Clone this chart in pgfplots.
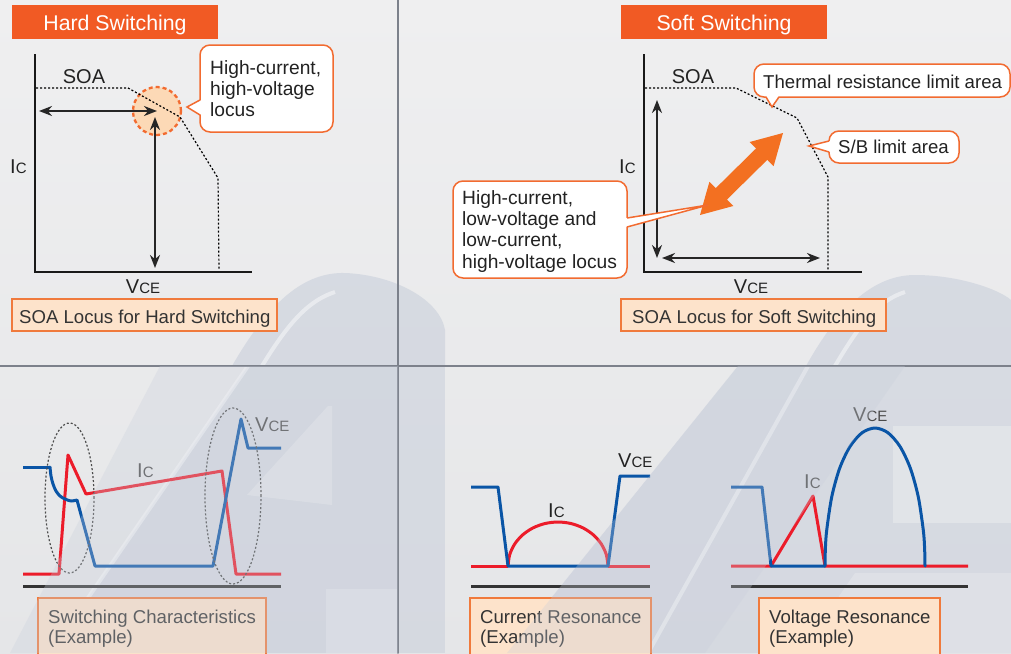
\documentclass[border=0pt]{standalone}
\usepackage{pgfplots}
\pgfplotsset{compat=1.18}
\usepackage{fontspec}
\setmainfont{Liberation Sans}
\usetikzlibrary{arrows.meta}
\definecolor{bgtop}{HTML}{EFEFF0}
\definecolor{bgbot}{HTML}{E5E6E8}
\definecolor{wm}{HTML}{C9CFDB}
\definecolor{wmlight}{HTML}{E4E6EA}
\definecolor{divider}{HTML}{7C818B}
\definecolor{titleor}{HTML}{F15A24}
\definecolor{bigarrow}{HTML}{F37021}
\definecolor{callout}{HTML}{F26B30}
\definecolor{capfill}{HTML}{FDE3CB}
\definecolor{capedge}{HTML}{F07A3C}
\definecolor{circfill}{HTML}{FCD9B6}
\definecolor{vblue}{HTML}{0A55A6}
\definecolor{ired}{HTML}{EC1C2A}
\definecolor{txt}{HTML}{222222}
\definecolor{captxt}{HTML}{333333}
\definecolor{lbl}{HTML}{4A4A4A}
\newcommand{\fs}[1]{\fontsize{#1}{#1}\selectfont}
\newcommand{\IC}[1][txt]{\textcolor{#1}{{\fs{20}I}{\fs{15}C}}}
\newcommand{\VCE}[1][txt]{\textcolor{#1}{{\fs{20}V}{\fs{15}CE}}}

\begin{document}
\begin{tikzpicture}
\begin{axis}[scale only axis, width=1011pt, height=653pt,
  xmin=0, xmax=1011, ymin=0, ymax=653, y dir=reverse,
  axis lines=none, clip=true,
  every axis plot/.append style={line cap=round, line join=round}]

% ---------- background ----------
\fill[top color=bgtop, bottom color=bgbot] (axis cs:0,0) rectangle (axis cs:1011,653);
% watermark, top panels (tops of tubes)
\fill[wm, opacity=0.6] (axis cs:232,366) .. controls (axis cs:270,300) and (axis cs:305,272) .. (axis cs:345,273)
   .. controls (axis cs:395,275) and (axis cs:440,300) .. (axis cs:445,330) -- (axis cs:445,366) -- cycle;
\fill[wm, opacity=0.6] (axis cs:806,366) .. controls (axis cs:840,305) and (axis cs:875,275) .. (axis cs:915,275)
   .. controls (axis cs:960,275) and (axis cs:1000,290) .. (axis cs:1011,300) -- (axis cs:1011,366) -- cycle;
\draw[white, opacity=0.45, line width=4pt] (axis cs:262,366) .. controls (axis cs:290,320) and (axis cs:310,300) .. (axis cs:335,292);
\draw[white, opacity=0.45, line width=4pt] (axis cs:835,366) .. controls (axis cs:862,320) and (axis cs:880,300) .. (axis cs:905,292);
% watermark, bottom panels
\fill[wm, opacity=0.55] (axis cs:248,366) -- (axis cs:398,366) -- (axis cs:398,653) -- (axis cs:50,653) -- cycle;
\fill[wmlight, opacity=0.9] (axis cs:247,495) -- (axis cs:328,406) -- (axis cs:332,406) -- (axis cs:332,505) -- cycle;
\fill[wmlight, opacity=0.8] (axis cs:326,589) rectangle (axis cs:398,653);
\fill[wm, opacity=0.55] (axis cs:398,366) rectangle (axis cs:445,653);
\fill[wm, opacity=0.55] (axis cs:738,366) -- (axis cs:1011,366) -- (axis cs:1011,653) -- (axis cs:507,653) -- cycle;
\fill[wmlight, opacity=0.85] (axis cs:893,426) rectangle (axis cs:1011,523);
\fill[wmlight, opacity=0.6] (axis cs:855,573) -- (axis cs:1011,573) -- (axis cs:1011,653) -- (axis cs:800,653) -- cycle;
\draw[white, opacity=0.5, line width=4pt] (axis cs:248,366) -- (axis cs:50,653);
\draw[white, opacity=0.5, line width=4pt] (axis cs:808,366) -- (axis cs:648,653);

% ---------- dividers ----------
\addplot[divider, line width=1.6pt] coordinates {(398,0) (398,653)};
\addplot[divider, line width=1.6pt] coordinates {(0,366) (1011,366)};

% =============== TOP LEFT: Hard switching ===============
\fill[titleor] (axis cs:12,5) rectangle (axis cs:218,39);
\node[anchor=base, text=white, font=\fs{21.3}, inner sep=0] at (axis cs:115,30) {Hard Switching};

\draw[callout, dash pattern=on 4pt off 3pt, line width=2.3pt, fill=circfill] (axis cs:157,111) circle[radius=24pt];

\addplot[black, line width=1.2pt, dash pattern=on 2pt off 2pt, line cap=butt] coordinates {(36,88) (128,88) (180,117) (218,178) (219,270)};
\addplot[black!90, line width=2.6pt, line cap=butt, line join=miter] coordinates {(35,54) (35,272) (252,272)};
\addplot[black!85, line width=2.4pt, line cap=butt, {Stealth[length=13pt,width=10pt]}-{Stealth[length=13pt,width=10pt]}] coordinates {(39,111) (157,111)};
\addplot[black!85, line width=2.4pt, line cap=butt, {Stealth[length=13pt,width=10pt]}-{Stealth[length=13pt,width=10pt]}] coordinates {(155,117) (155,268)};

\node[anchor=base, text=txt, font=\fs{20}, inner sep=0] at (axis cs:84,83) {SOA};
\node[anchor=base west, inner sep=0] at (axis cs:10,173) {\IC};
\node[anchor=base, inner sep=0] at (axis cs:143,293) {\VCE};

% callout
\draw[callout, fill=white, line width=1.5pt, rounded corners=10pt] (axis cs:200,45) rectangle (axis cs:333,132);
\fill[white] (axis cs:201.5,100) -- (axis cs:187,107) -- (axis cs:201.5,115) -- cycle;
\draw[callout, line width=1.5pt] (axis cs:200,100) -- (axis cs:187,107) -- (axis cs:200,115);
\node[anchor=base west, text=txt, font=\fs{19.2}, inner sep=0] at (axis cs:210,74) {High-current,};
\node[anchor=base west, text=txt, font=\fs{19.2}, inner sep=0] at (axis cs:210,95) {high-voltage};
\node[anchor=base west, text=txt, font=\fs{19.2}, inner sep=0] at (axis cs:210,116) {locus};

% caption
\draw[capedge, fill=capfill, line width=1.5pt] (axis cs:12,299) rectangle (axis cs:277,331);
\node[anchor=base west, text=captxt, font=\fs{18.6}, inner sep=0] at (axis cs:19,323) {SOA Locus for Hard Switching};

% =============== TOP RIGHT: Soft switching ===============
\fill[titleor] (axis cs:621,5) rectangle (axis cs:827,39);
\node[anchor=base, text=white, font=\fs{21.3}, inner sep=0] at (axis cs:724,30) {Soft Switching};

\addplot[black, line width=1.2pt, dash pattern=on 2pt off 2pt, line cap=butt] coordinates {(645,88) (736,88) (797,118) (828,177) (828,270)};
\addplot[black!90, line width=2.6pt, line cap=butt, line join=miter] coordinates {(644,54) (644,272) (862,272)};
\addplot[black!85, line width=2.4pt, line cap=butt, {Stealth[length=13pt,width=10pt]}-{Stealth[length=13pt,width=10pt]}] coordinates {(657,100) (657,258)};
\addplot[black!85, line width=2.4pt, line cap=butt, {Stealth[length=13pt,width=10pt]}-{Stealth[length=13pt,width=10pt]}] coordinates {(662,258) (820,258)};

% big orange double arrow
\addplot[fill=bigarrow, draw=none] coordinates {
 (700,215) (733.3,206.0) (726.9,199.6) (767.3,159.8) (773.6,166.2)
 (783,133) (749.7,142.0) (756.1,148.4) (715.7,188.2) (709.4,181.8) (700,215)} -- cycle;

\node[anchor=base, text=txt, font=\fs{20}, inner sep=0] at (axis cs:693,83) {SOA};
\node[anchor=base west, inner sep=0] at (axis cs:619,173) {\IC};
\node[anchor=base, inner sep=0] at (axis cs:751,293) {\VCE};

% thermal callout
\draw[callout, fill=white, line width=1.5pt, rounded corners=10pt] (axis cs:754,64) rectangle (axis cs:1010,97);
\fill[white] (axis cs:766,95.5) -- (axis cs:772,107) -- (axis cs:779,95.5) -- cycle;
\draw[callout, line width=1.5pt] (axis cs:766,97) -- (axis cs:772,107) -- (axis cs:779,97);
\node[anchor=base west, text=txt, font=\fs{18.6}, inner sep=0] at (axis cs:763,88) {Thermal resistance limit area};

% S/B callout
\draw[callout, fill=white, line width=1.5pt, rounded corners=10pt] (axis cs:829,131) rectangle (axis cs:959,163);
\fill[white] (axis cs:830.5,141) -- (axis cs:809,146) -- (axis cs:830.5,152) -- cycle;
\draw[callout, line width=1.5pt] (axis cs:829,141) -- (axis cs:809,146) -- (axis cs:829,152);
\node[anchor=base west, text=txt, font=\fs{18.6}, inner sep=0] at (axis cs:838,153) {S/B limit area};

% locus callout
\draw[callout, fill=white, line width=1.5pt, rounded corners=10pt] (axis cs:453,181) rectangle (axis cs:627,278);
\fill[white] (axis cs:625.5,218) -- (axis cs:708,205) -- (axis cs:625.5,227) -- cycle;
\draw[callout, line width=1.5pt] (axis cs:627,218) -- (axis cs:708,205) -- (axis cs:627,227);
\node[anchor=base west, text=txt, font=\fs{19.2}, inner sep=0] at (axis cs:462,204) {High-current,};
\node[anchor=base west, text=txt, font=\fs{19.2}, inner sep=0] at (axis cs:462,225.3) {low-voltage and};
\node[anchor=base west, text=txt, font=\fs{19.2}, inner sep=0] at (axis cs:462,246.6) {low-current,};
\node[anchor=base west, text=txt, font=\fs{19.2}, inner sep=0] at (axis cs:462,268) {high-voltage locus};

% caption
\draw[capedge, fill=capfill, line width=1.5pt] (axis cs:621,299) rectangle (axis cs:886,331);
\node[anchor=base west, text=captxt, font=\fs{18.6}, inner sep=0] at (axis cs:632,323) {SOA Locus for Soft Switching};

% =============== BOTTOM LEFT: switching characteristics ===============
\addplot[black!80, line width=3pt, line cap=butt] coordinates {(23,586) (281,586)};
\addplot[ired, line width=3pt, line cap=butt] coordinates {(23,574) (59,574) (68,455) (86,494) (222,471) (236,574) (281,574)};
\addplot[vblue, line width=3pt, line cap=butt] coordinates {(23,467) (50,467)};
\addplot[vblue, line width=3pt, smooth] coordinates {(50,467) (51,476) (53,484) (56,491) (60,496) (65,499) (71,501) (77,500)};
\addplot[vblue, line width=3pt, line cap=butt] coordinates {(77,500) (95,566) (213,566) (241,419) (248,448) (281,448)};
\draw[black!70, dash pattern=on 2pt off 2pt, line width=1.2pt] (axis cs:69.5,498) ellipse[x radius=24.5pt, y radius=75pt];
\draw[black!70, dash pattern=on 2pt off 2pt, line width=1.2pt] (axis cs:233,496) ellipse[x radius=28pt, y radius=88pt];
\node[anchor=base west, inner sep=0] at (axis cs:137,477) {\IC[lbl]};
\node[anchor=base west, inner sep=0] at (axis cs:255,431) {\VCE[lbl]};
\draw[capedge, fill=capfill, line width=1.5pt] (axis cs:38,598) rectangle (axis cs:266,660);
\node[anchor=base west, text=captxt, font=\fs{18.6}, inner sep=0] at (axis cs:48,623) {Switching Characteristics};
\node[anchor=base west, text=captxt, font=\fs{18.6}, inner sep=0] at (axis cs:48,643) {(Example)};

% =============== BOTTOM MIDDLE: current resonance ===============
\addplot[black!80, line width=3pt, line cap=butt] coordinates {(471,586) (650,586)};
\addplot[ired, line width=3pt, line cap=butt] coordinates {(471,566) (508,566)};
\addplot[ired, line width=3pt, smooth] coordinates {(508,566) (509.7,554.6) (514.7,544) (522.6,534.9) (533,527.9) (545.1,523.5) (558,522) (570.9,523.5) (583,527.9) (593.4,534.9) (601.3,544) (606.3,554.6) (608,566)};
\addplot[ired, line width=3pt, line cap=butt] coordinates {(608,566) (650,566)};
\addplot[vblue, line width=3pt, line cap=butt] coordinates {(471,487) (498,487) (508,566) (608,566) (620,476) (650,476)};
\node[anchor=base west, inner sep=0] at (axis cs:548,517) {\IC};
\node[anchor=base west, inner sep=0] at (axis cs:618,467) {\VCE};
\draw[capedge, fill=capfill, line width=1.5pt] (axis cs:470,598) rectangle (axis cs:651,660);
\node[anchor=base west, text=captxt, font=\fs{18.6}, inner sep=0] at (axis cs:480,623) {Current Resonance};
\node[anchor=base west, text=captxt, font=\fs{18.6}, inner sep=0] at (axis cs:480,643) {(Example)};

% =============== BOTTOM RIGHT: voltage resonance ===============
\addplot[black!80, line width=3pt, line cap=butt] coordinates {(731,586) (968,586)};
\addplot[ired, line width=3pt, line cap=butt] coordinates {(731,566) (771,566) (813,496) (825,566) (968,566)};
\addplot[vblue, line width=3pt, line cap=butt] coordinates {(731,487) (762,487) (771,566) (825,566)};
\addplot[vblue, line width=3pt, smooth] coordinates {(825,566) (825.4,548) (826.7,530.3) (831.7,497) (839.6,468.4) (850,446.5) (862.1,432.7) (875,428) (887.9,432.7) (900,446.5) (910.4,468.4) (918.3,497) (923.3,530.3) (924.6,548) (925,566)};
\node[anchor=base west, inner sep=0] at (axis cs:804,488) {\IC[lbl]};
\node[anchor=base west, inner sep=0] at (axis cs:853,421) {\VCE[lbl]};
\draw[capedge, fill=capfill, line width=1.5pt] (axis cs:759,598) rectangle (axis cs:940,660);
\node[anchor=base west, text=captxt, font=\fs{18.6}, inner sep=0] at (axis cs:769,623) {Voltage Resonance};
\node[anchor=base west, text=captxt, font=\fs{18.6}, inner sep=0] at (axis cs:769,643) {(Example)};

% ---------- translucent watermark over the lower plots ----------
\fill[wm, opacity=0.3] (axis cs:160,366) -- (axis cs:398,366) -- (axis cs:398,653) -- (axis cs:10,653) -- cycle;
\fill[wm, opacity=0.3] (axis cs:738,366) -- (axis cs:905,366) -- (axis cs:705,653) -- (axis cs:507,653) -- cycle;

\end{axis}
\end{tikzpicture}
\end{document}
